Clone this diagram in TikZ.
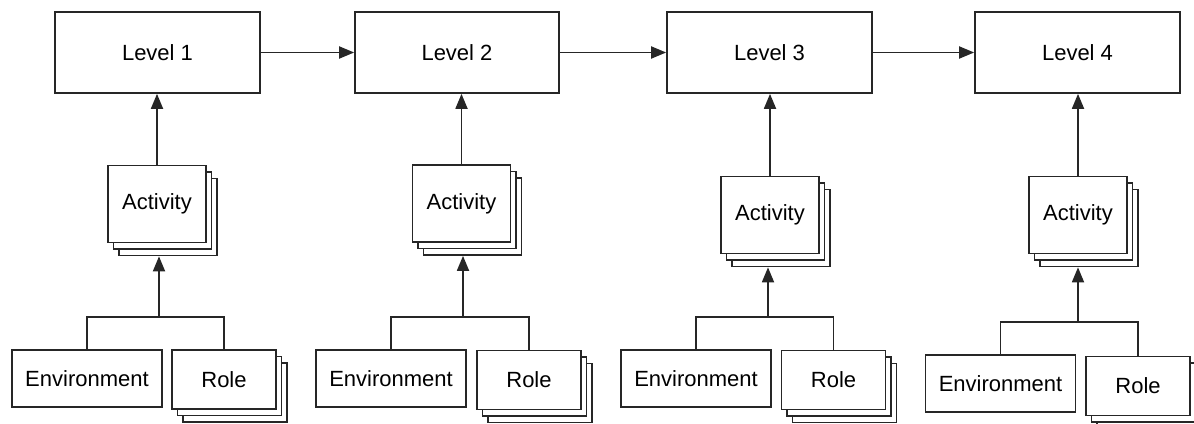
\documentclass[tikz,border=0pt]{standalone}
\usepackage{fontspec}
\setmainfont{Liberation Sans}
\usetikzlibrary{shadows,arrows.meta,calc}
\tikzset{
  box/.style={draw=black!85, fill=white, line width=1.7pt, inner sep=0pt, font=\fontsize{22}{24}\selectfont},
  levelbox/.style={box, minimum width=205pt, minimum height=81pt},
  stackbox/.style={box, double copy shadow={shadow xshift=5.5pt, shadow yshift=-6.5pt, draw=black!85, fill=white, line width=1.7pt}},
  actbox/.style={stackbox, minimum width=98pt, minimum height=77pt},
  rolebox/.style={stackbox, minimum width=104pt, minimum height=59pt},
  envbox/.style={box, minimum width=150pt, minimum height=57pt},
  arr/.style={draw=black!85, line width=1.8pt, -{Triangle[length=15pt,width=12pt]}},
  ln/.style={draw=black!85, line width=1.8pt},
}
\begin{document}
\begin{tikzpicture}[x=1pt,y=-1pt]
\useasboundingbox (0,0) rectangle (1194,423);
% levels
\node[levelbox] (L1) at (157.5,52.5) {Level 1};
\node[levelbox, minimum width=204pt] (L2) at (457,52.5) {Level 2};
\node[levelbox] (L3) at (769.5,52.5) {Level 3};
\node[levelbox] (L4) at (1077.5,52.5) {Level 4};
\draw[arr] (L1.east) -- (L2.west);
\draw[arr] (L2.east) -- (L3.west);
\draw[arr] (L3.east) -- (L4.west);
% activities
\node[actbox] (A1) at (157,204) {Activity};
\node[actbox] (A2) at (461.5,203.5) {Activity};
\node[actbox] (A3) at (770,215) {Activity};
\node[actbox] (A4) at (1078,215) {Activity};
% environments and roles
\node[envbox] (E1) at (87,378.5) {Environment};
\node[envbox] (E2) at (391,378.5) {Environment};
\node[envbox] (E3) at (696,378.5) {Environment};
\node[envbox] (E4) at (1000.5,383.5) {Environment};
\node[rolebox] (R1) at (224,379.5) {Role};
\node[rolebox] (R2) at (529,380) {Role};
\node[rolebox] (R3) at (833.5,380) {Role};
\node[rolebox] (R4) at (1138,386) {Role};
% fork points
\coordinate (F1) at (159,317);
\coordinate (F2) at (463,317);
\coordinate (F3) at (768,317);
\coordinate (F4) at (1078,322);
\foreach \i in {1,2,3,4}{
  \draw[arr] (A\i.north) -- (A\i.north |- L\i.south);
  \draw[ln] (E\i.north) |- (F\i) -| (R\i.north);
  \draw[arr] (F\i) -- ($(F\i |- A\i.south)+(0,13)$);
}
\end{tikzpicture}
\end{document}
